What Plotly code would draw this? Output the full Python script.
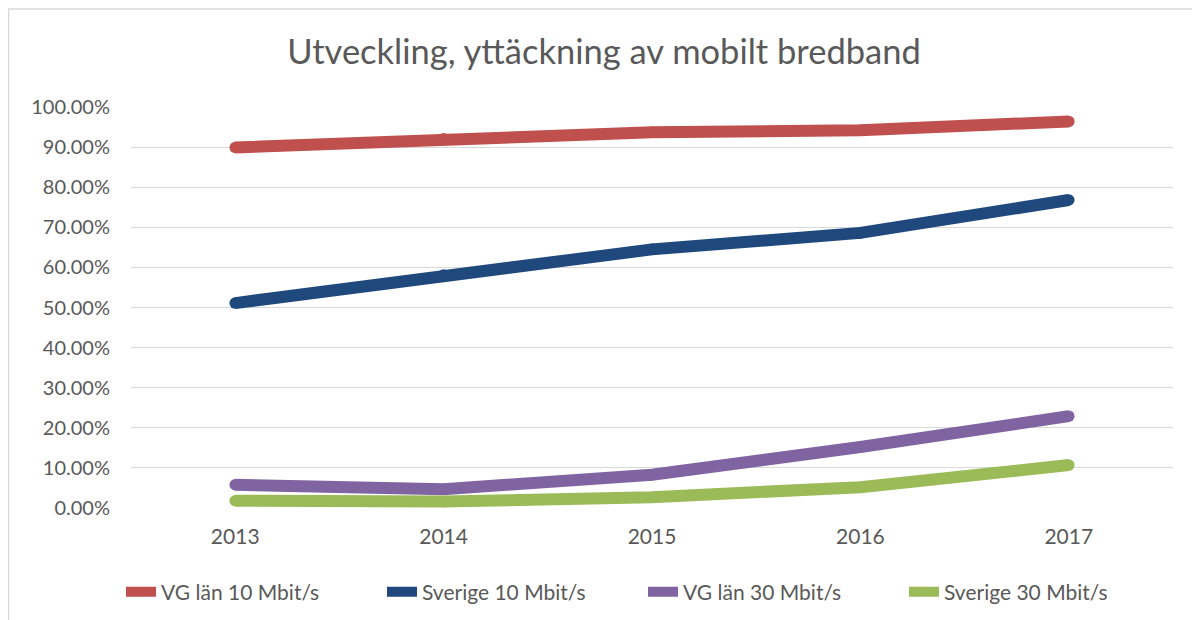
import plotly.graph_objects as go

years = ["2013", "2014", "2015", "2016", "2017"]
vg_10 = [0.899, 0.921, 0.937, 0.942, 0.964]
se_10 = [0.511, 0.581, 0.645, 0.686, 0.768]
vg_30 = [0.058, 0.047, 0.083, 0.152, 0.229]
se_30 = [0.018, 0.016, 0.027, 0.052, 0.107]
series_names = ["VG län 10 Mbit/s", "Sverige 10 Mbit/s", "VG län 30 Mbit/s", "Sverige 30 Mbit/s"]
colors = ["#C0504D", "#1F497D", "#8064A2", "#9BBB59"]

# page has an 8px body margin; figure coords = page coords - 8
W, H = 1192, 612
L, R, T, B = 123, 27, 99, 112
pw, ph = W - L - R, H - T - B

def px(x):
    return (x - L) / pw

def py(y):
    return (H - B - y) / ph

fig = go.Figure()
for name, vals, c in zip(series_names, [vg_10, se_10, vg_30, se_30], colors):
    fig.add_trace(go.Scatter(
        x=years, y=vals, name=name, mode="lines",
        line=dict(color=c, width=12), legendgroup=name,
    ))
    # round caps / joins for the thick line
    fig.add_trace(go.Scatter(
        x=years, y=vals, name=name, mode="markers", showlegend=False,
        legendgroup=name, hoverinfo="skip",
        marker=dict(color=c, size=11.5, line=dict(width=0)),
    ))

font_family = "Lato, Open Sans, sans-serif"
fig.update_layout(
    width=W, height=H,
    margin=dict(l=L, r=R, t=T, b=B, autoexpand=False),
    paper_bgcolor="white", plot_bgcolor="white",
    font=dict(family=font_family, color="#595959"),
    title=dict(text="Utveckling, yttäckning av mobilt bredband",
               x=0.5, xref="container", xanchor="center",
               y=1 - 44 / H, yref="container", yanchor="middle",
               font=dict(size=34.5, color="#595959", family=font_family)),
    xaxis=dict(type="category", range=[-0.5, 4.5], showgrid=False,
               showline=False, ticks="", tickfont=dict(size=21, color="#595959"),
               ticklabelstandoff=14),
    yaxis=dict(range=[0, 1.0], dtick=0.1, tickformat=".2%",
               gridcolor="#D9D9D9", gridwidth=1.2, zeroline=False,
               showline=False, tickfont=dict(size=20, color="#595959"),
               ticklabelstandoff=20),
    legend=dict(orientation="h", x=px(113), xanchor="left",
                y=py(584), yanchor="middle",
                font=dict(size=21, color="#595959"),
                entrywidth=216, entrywidthmode="pixels",
                traceorder="normal"),
    showlegend=True,
)

fig.add_shape(type="rect", xref="paper", yref="paper",
              x0=px(0.5), x1=px(1200), y0=py(620), y1=py(1),
              line=dict(color="#D9D9D9", width=1.5), fillcolor="rgba(0,0,0,0)",
              layer="below")

fig.write_html("out.html")
